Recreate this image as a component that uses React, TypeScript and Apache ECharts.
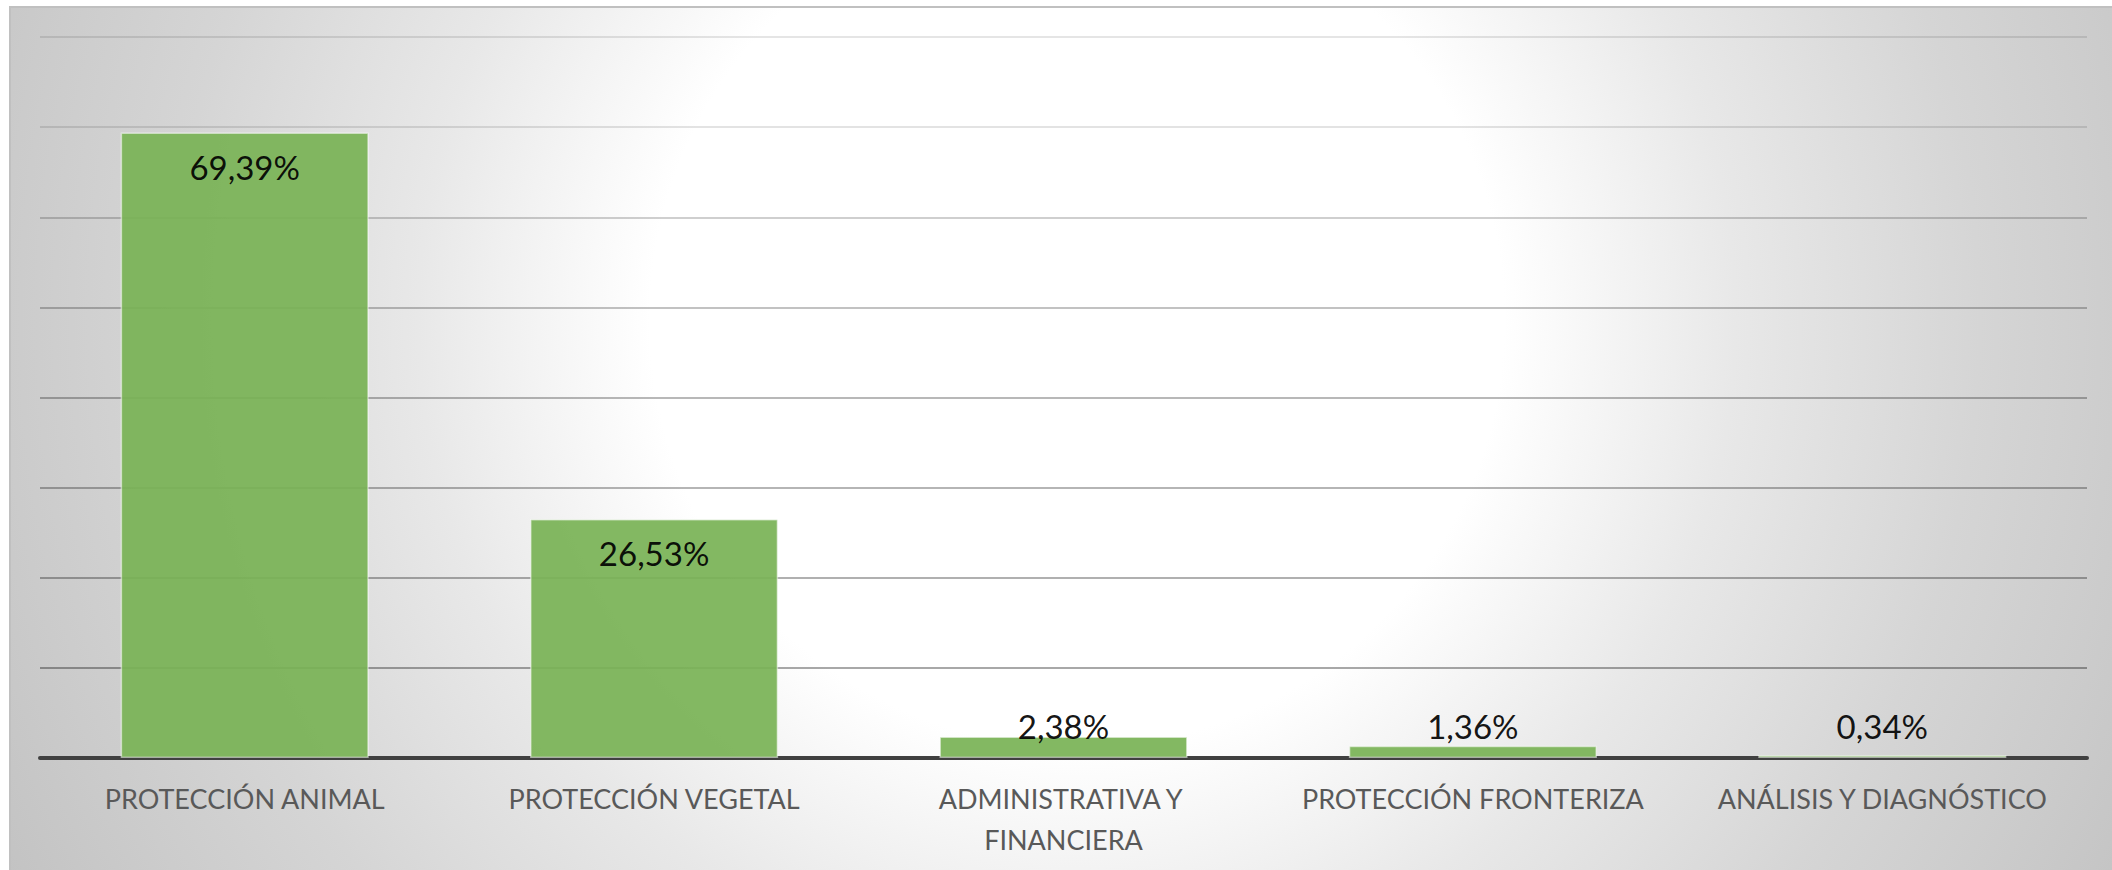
import React, { useEffect, useRef } from "react";
import * as echarts from "echarts";

const categories = [
  "PROTECCIÓN ANIMAL",
  "PROTECCIÓN VEGETAL",
  "ADMINISTRATIVA Y FINANCIERA",
  "PROTECCIÓN FRONTERIZA",
  "ANÁLISIS Y DIAGNÓSTICO",
];
const values = [69.39, 26.53, 2.38, 1.36, 0.34];
const yTicks = [0, 10, 20, 30, 40, 50, 60, 70, 80];
// gridline darkness from bottom (0) to top (80)
const gridAlphas = [0, 0.34, 0.31, 0.29, 0.28, 0.24, 0.19, 0.11, 0.1];

const W = 2112;
const H = 870;

export default function App() {
  const ref = useRef<HTMLDivElement>(null);
  useEffect(() => {
    if (!ref.current) return;
    const chart = echarts.init(ref.current, null, { renderer: "svg" });
    const fmt = (v: number) => v.toFixed(2).replace(".", ",") + "%";
    const data = values.map((v) => {
      const small = v < 7;
      return {
        value: v,
        label: small
          ? { position: "insideBottom", distance: 14 }
          : { position: "insideTop", distance: 16 },
      };
    });
    chart.setOption({
      animation: false,
      textStyle: { fontFamily: "Lato" },
      graphic: [
        {
          type: "rect",
          z: -10,
          silent: true,
          shape: { x: 10, y: 7, width: W + 10, height: H + 10 },
          style: {
            fill: new echarts.graphic.RadialGradient(
              1077,
              320,
              1220,
              [
                { offset: 0, color: "#ffffff" },
                { offset: 0.35, color: "#ffffff" },
                { offset: 0.54, color: "#e8e8e8" },
                { offset: 0.74, color: "#d5d5d5" },
                { offset: 0.88, color: "#cbcbcb" },
                { offset: 1, color: "#c2c2c2" },
              ],
              true
            ),
            stroke: "#c0c0c0",
            lineWidth: 2,
          },
        },
      ],
      grid: { left: 40, right: 25, top: 37, bottom: 112, containLabel: false },
      xAxis: {
        type: "category",
        data: categories,
        axisLine: { show: true, lineStyle: { color: "#404040", width: 4 } },
        axisTick: { show: false },
        axisLabel: {
          color: "#595959",
          fontFamily: "Lato",
          fontSize: 27,
          lineHeight: 41,
          margin: 20,
          interval: 0,
          width: 390,
          overflow: "break",
        },
      },
      yAxis: {
        type: "value",
        min: yTicks[0],
        max: yTicks[yTicks.length - 1],
        interval: 10,
        axisLine: { show: false },
        axisTick: { show: false },
        axisLabel: { show: false },
        splitLine: {
          show: true,
          lineStyle: {
            width: 2,
            color: gridAlphas.map((a) => `rgba(0,0,0,${a})`),
          },
        },
      },
      series: [
        {
          type: "bar",
          data,
          barWidth: "60.6%",
          itemStyle: {
            color: "#7ab356",
            opacity: 0.93,
            borderColor: "rgba(255,255,255,0.55)",
            borderWidth: 1.5,
          },
          label: {
            show: true,
            color: "#000000",
            fontFamily: "Lato",
            fontSize: 33,
            lineHeight: 36,
            formatter: (p: any) => fmt(p.value),
          },
        },
      ],
    });
    return () => chart.dispose();
  }, []);
  return (
    <div
      ref={ref}
      style={{ position: "absolute", left: 0, top: 0, width: W, height: H }}
    />
  );
}
